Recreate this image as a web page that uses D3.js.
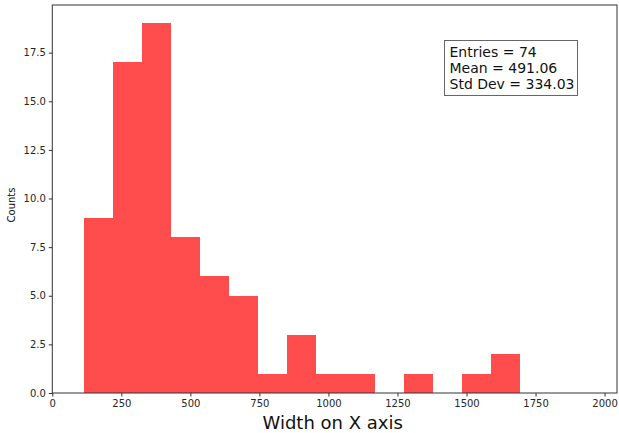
<!DOCTYPE html>
<html>
<head>
<meta charset="utf-8">
<script src="https://cdn.jsdelivr.net/npm/d3@7"></script>
<style>
body { margin: 0; background: white; }
svg { display: block; font-family: 'DejaVu Sans', sans-serif; }
</style>
</head>
<body>
<div id="chart"></div>
<script>
// histogram data
var bin_start = 115, bin_width = 105.2
var counts = [9, 17, 19, 8, 6, 5, 1, 3, 1, 1, 0, 1, 0, 1, 2]
var x_ticks = [0, 250, 500, 750, 1000, 1250, 1500, 1750, 2000]
var y_ticks = [0, 2.5, 5, 7.5, 10, 12.5, 15, 17.5]
var stat_names = ['Entries', 'Mean', 'Std Dev']
var stat_values = ['74', '491.06', '334.03']

var width = 619, height = 433
// plot area edges (note: "top" is a window property, so use other names)
var plot_left = 52.3, plot_right = 617, plot_top = 5, plot_bottom = 393

var bins = counts.map((c, i) => ({ x0: bin_start + i * bin_width, x1: bin_start + (i + 1) * bin_width, n: c }))

var x = d3.scaleLinear().domain([0, 2045]).range([plot_left, plot_right])
var y = d3.scaleLinear().domain([0, 19.95]).range([plot_bottom, plot_top])

var svg = d3.select('#chart')
    .append('svg')
    .attr('width', width)
    .attr('height', height)

svg.selectAll('rect.bar')
    .data(bins.filter(d => d.n > 0))
    .enter()
    .append('rect')
    .attr('class', 'bar')
    .attr('x', d => Math.round(x(d.x0)))
    .attr('y', d => y(d.n))
    .attr('width', d => Math.round(x(d.x1)) - Math.round(x(d.x0)))
    .attr('height', d => y(0) - y(d.n))
    .attr('shape-rendering', 'crispEdges')
    .attr('fill', '#ff4c4c')

// frame
svg.append('rect')
    .attr('x', plot_left).attr('y', plot_top)
    .attr('width', plot_right - plot_left).attr('height', plot_bottom - plot_top)
    .attr('fill', 'none')
    .attr('stroke', '#333')
    .attr('stroke-width', 1)

var xAxis = svg.append('g')
    .attr('transform', `translate(0,${plot_bottom})`)
    .call(d3.axisBottom(x).tickValues(x_ticks).tickFormat(d3.format('d')).tickSize(3.5).tickPadding(3))
var yAxis = svg.append('g')
    .attr('transform', `translate(${plot_left},0)`)
    .call(d3.axisLeft(y).tickValues(y_ticks).tickFormat(d3.format('.1f')).tickSize(3.5).tickPadding(3))

;[xAxis, yAxis].forEach(g => {
    g.select('.domain').remove()
    g.selectAll('line').attr('stroke', '#333')
    g.selectAll('text').attr('fill', '#262626').style('font-size', '10px').style('font-family', 'DejaVu Sans')
})

// axis labels
svg.append('text')
    .attr('x', (plot_left + plot_right) / 2 - 2)
    .attr('y', 429)
    .attr('text-anchor', 'middle')
    .style('font-size', '18px')
    .attr('fill', '#111')
    .text('Width on X axis')

svg.append('text')
    .attr('transform', 'translate(15,205) rotate(-90)')
    .attr('text-anchor', 'middle')
    .style('font-size', '10px')
    .attr('fill', '#111')
    .text('Counts')

// stats box
svg.append('rect')
    .attr('x', 444.5).attr('y', 40.5)
    .attr('width', 133).attr('height', 55)
    .attr('fill', 'white')
    .attr('stroke', '#666')
    .attr('stroke-width', 1)

svg.selectAll('text.stat')
    .data(stat_names)
    .enter()
    .append('text')
    .attr('class', 'stat')
    .attr('x', 449.5)
    .attr('y', (d, i) => 56.7 + i * 16)
    .style('font-size', '14px')
    .attr('fill', '#111')
    .text((d, i) => `${d} = ${stat_values[i]}`)
</script>
</body>
</html>
